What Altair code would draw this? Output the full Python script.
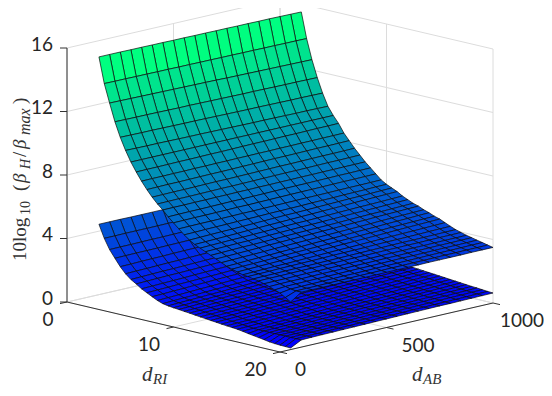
import altair as alt
import pandas as pd

d_ab = [50,100,150,200,250,300,350,400,450,500,550,600,650,700,750,800,850,900,950,1000]
d_ri = [2,2.5,3,3.5,4,4.5,5,5.5,6,6.5,7,7.5,8,8.5,9,9.5,10,10.5,11,11.5,12,12.5,13,13.5,14,14.5,15,15.5,16,16.5,17,17.5,18,18.5,19,19.5,20]

upper = [
[15.60,15.60,15.60,15.59,15.59,15.58,15.58,15.57,15.57,15.56,15.56,15.55,15.55,15.54,15.54,15.53,15.53,15.52,15.51,15.50],
[14.00,13.99,13.99,13.98,13.98,13.97,13.97,13.96,13.96,13.95,13.95,13.94,13.94,13.93,13.93,13.92,13.92,13.91,13.91,13.90],
[12.85,12.84,12.83,12.82,12.81,12.80,12.79,12.78,12.77,12.76,12.75,12.73,12.72,12.71,12.70,12.69,12.68,12.67,12.66,12.65],
[11.75,11.74,11.73,11.73,11.72,11.71,11.70,11.70,11.69,11.68,11.67,11.66,11.65,11.65,11.64,11.63,11.62,11.62,11.61,11.60],
[10.85,10.84,10.83,10.83,10.82,10.81,10.80,10.80,10.79,10.78,10.77,10.76,10.75,10.75,10.74,10.73,10.72,10.72,10.71,10.70],
[10.10,10.09,10.08,10.08,10.07,10.06,10.05,10.05,10.04,10.03,10.02,10.01,10.00,10.00,9.99,9.98,9.97,9.97,9.96,9.95],
[9.45,9.45,9.45,9.45,9.45,9.45,9.45,9.45,9.45,9.45,9.45,9.45,9.45,9.45,9.45,9.45,9.45,9.45,9.45,9.45],
[8.90,8.91,8.91,8.92,8.93,8.93,8.94,8.95,8.95,8.96,8.97,8.98,8.98,8.99,9.00,9.00,9.01,9.02,9.02,9.03],
[8.40,8.41,8.41,8.42,8.42,8.43,8.43,8.44,8.44,8.45,8.45,8.46,8.46,8.47,8.47,8.48,8.48,8.49,8.49,8.50],
[7.95,7.96,7.97,7.97,7.98,7.99,8.00,8.00,8.01,8.02,8.03,8.04,8.05,8.05,8.06,8.07,8.08,8.08,8.09,8.10],
[7.55,7.56,7.57,7.57,7.58,7.59,7.60,7.60,7.61,7.62,7.63,7.64,7.65,7.65,7.66,7.67,7.68,7.68,7.69,7.70],
[7.20,7.21,7.22,7.22,7.23,7.24,7.25,7.25,7.26,7.27,7.28,7.29,7.30,7.30,7.31,7.32,7.33,7.33,7.34,7.35],
[6.90,6.91,6.91,6.92,6.92,6.93,6.93,6.94,6.94,6.95,6.95,6.96,6.96,6.97,6.97,6.98,6.98,6.99,6.99,7.00],
[6.55,6.56,6.57,6.57,6.58,6.59,6.60,6.60,6.61,6.62,6.63,6.64,6.65,6.65,6.66,6.67,6.68,6.68,6.69,6.70],
[6.25,6.26,6.27,6.27,6.28,6.29,6.30,6.30,6.31,6.32,6.33,6.34,6.35,6.35,6.36,6.37,6.38,6.38,6.39,6.40],
[5.95,5.96,5.97,5.97,5.98,5.99,6.00,6.00,6.01,6.02,6.03,6.04,6.05,6.05,6.06,6.07,6.08,6.08,6.09,6.10],
[5.65,5.66,5.68,5.69,5.70,5.72,5.73,5.74,5.76,5.77,5.78,5.79,5.81,5.82,5.83,5.85,5.86,5.87,5.89,5.90],
[5.40,5.42,5.44,5.46,5.47,5.49,5.51,5.53,5.55,5.57,5.58,5.60,5.62,5.64,5.66,5.68,5.69,5.71,5.73,5.75],
[5.20,5.22,5.24,5.26,5.28,5.31,5.33,5.35,5.37,5.39,5.41,5.43,5.45,5.47,5.49,5.52,5.54,5.56,5.58,5.60],
[5.05,5.07,5.09,5.11,5.12,5.14,5.16,5.18,5.20,5.22,5.23,5.25,5.27,5.29,5.31,5.33,5.34,5.36,5.38,5.40],
[4.90,4.92,4.94,4.96,4.97,4.99,5.01,5.03,5.05,5.07,5.08,5.10,5.12,5.14,5.16,5.18,5.19,5.21,5.23,5.25],
[4.75,4.77,4.79,4.81,4.82,4.84,4.86,4.88,4.90,4.92,4.93,4.95,4.97,4.99,5.01,5.03,5.04,5.06,5.08,5.10],
[4.60,4.62,4.64,4.66,4.68,4.71,4.73,4.75,4.77,4.79,4.81,4.83,4.85,4.87,4.89,4.92,4.94,4.96,4.98,5.00],
[4.45,4.47,4.49,4.51,4.53,4.56,4.58,4.60,4.62,4.64,4.66,4.68,4.70,4.72,4.74,4.77,4.79,4.81,4.83,4.85],
[4.30,4.32,4.35,4.37,4.39,4.42,4.44,4.46,4.49,4.51,4.53,4.55,4.58,4.60,4.62,4.65,4.67,4.69,4.72,4.74],
[4.20,4.22,4.24,4.26,4.28,4.31,4.33,4.35,4.37,4.39,4.41,4.43,4.45,4.47,4.49,4.52,4.54,4.56,4.58,4.60],
[4.10,4.12,4.14,4.16,4.18,4.21,4.23,4.25,4.27,4.29,4.31,4.33,4.35,4.37,4.39,4.42,4.44,4.46,4.48,4.50],
[4.00,4.02,4.04,4.06,4.07,4.09,4.11,4.13,4.15,4.17,4.18,4.20,4.22,4.24,4.26,4.28,4.29,4.31,4.33,4.35],
[3.97,3.98,3.99,4.01,4.02,4.03,4.04,4.05,4.07,4.08,4.09,4.10,4.12,4.13,4.14,4.15,4.16,4.18,4.19,4.20],
[3.90,3.91,3.92,3.93,3.94,3.94,3.95,3.96,3.97,3.98,3.99,4.00,4.01,4.02,4.03,4.03,4.04,4.05,4.06,4.07],
[3.85,3.86,3.86,3.87,3.88,3.88,3.89,3.89,3.90,3.91,3.91,3.92,3.93,3.93,3.94,3.94,3.95,3.96,3.96,3.97],
[3.75,3.76,3.76,3.77,3.78,3.78,3.79,3.79,3.80,3.81,3.81,3.82,3.83,3.83,3.84,3.84,3.85,3.86,3.86,3.87],
[3.65,3.67,3.68,3.68,3.69,3.70,3.70,3.71,3.72,3.72,3.73,3.74,3.74,3.75,3.76,3.77,3.78,3.78,3.79,3.80],
[3.52,3.58,3.59,3.60,3.61,3.61,3.62,3.63,3.64,3.64,3.65,3.66,3.67,3.67,3.68,3.69,3.70,3.70,3.71,3.72],
[3.40,3.50,3.51,3.52,3.53,3.54,3.55,3.55,3.56,3.57,3.58,3.58,3.59,3.60,3.61,3.62,3.62,3.63,3.64,3.65],
[3.20,3.46,3.47,3.47,3.48,3.49,3.49,3.50,3.50,3.51,3.52,3.52,3.53,3.53,3.54,3.55,3.55,3.56,3.56,3.57],
[3.00,3.46,3.46,3.46,3.46,3.47,3.47,3.47,3.47,3.48,3.48,3.48,3.48,3.49,3.49,3.49,3.49,3.50,3.50,3.50],
]

lower = [
[5.06,5.06,5.06,5.05,5.05,5.05,5.05,5.04,5.04,5.03,5.03,5.03,5.02,5.02,5.02,5.01,5.01,5.01,5.00,5.00],
[4.25,4.25,4.26,4.26,4.26,4.26,4.27,4.27,4.27,4.27,4.28,4.28,4.28,4.28,4.29,4.29,4.29,4.29,4.30,4.30],
[3.62,3.63,3.63,3.64,3.65,3.65,3.66,3.67,3.67,3.68,3.69,3.70,3.70,3.71,3.72,3.72,3.73,3.74,3.74,3.75],
[3.15,3.16,3.17,3.17,3.18,3.19,3.20,3.21,3.21,3.22,3.23,3.24,3.25,3.25,3.26,3.27,3.28,3.28,3.29,3.30],
[2.70,2.71,2.73,2.74,2.75,2.77,2.78,2.79,2.81,2.82,2.83,2.84,2.86,2.87,2.88,2.90,2.91,2.92,2.94,2.95],
[2.33,2.35,2.36,2.38,2.40,2.41,2.43,2.45,2.46,2.48,2.50,2.52,2.53,2.55,2.57,2.58,2.60,2.62,2.63,2.65],
[2.05,2.07,2.09,2.11,2.12,2.14,2.16,2.18,2.20,2.22,2.23,2.25,2.27,2.29,2.31,2.33,2.34,2.36,2.38,2.40],
[1.85,1.87,1.89,1.91,1.92,1.94,1.96,1.98,2.00,2.02,2.03,2.05,2.07,2.09,2.11,2.13,2.14,2.16,2.18,2.20],
[1.62,1.64,1.66,1.68,1.70,1.73,1.75,1.77,1.79,1.81,1.83,1.85,1.87,1.89,1.91,1.94,1.96,1.98,2.00,2.02],
[1.45,1.47,1.49,1.52,1.54,1.56,1.58,1.60,1.63,1.65,1.67,1.69,1.72,1.74,1.76,1.78,1.80,1.83,1.85,1.87],
[1.28,1.30,1.33,1.35,1.38,1.40,1.43,1.45,1.47,1.50,1.52,1.55,1.57,1.59,1.62,1.64,1.67,1.69,1.72,1.74],
[1.12,1.15,1.17,1.20,1.23,1.25,1.28,1.31,1.33,1.36,1.39,1.42,1.44,1.47,1.50,1.52,1.55,1.58,1.60,1.63],
[1.00,1.03,1.06,1.08,1.11,1.14,1.17,1.20,1.22,1.25,1.28,1.31,1.33,1.36,1.39,1.42,1.45,1.47,1.50,1.53],
[0.94,0.97,0.99,1.02,1.05,1.07,1.10,1.13,1.15,1.18,1.21,1.24,1.26,1.29,1.32,1.34,1.37,1.40,1.42,1.45],
[0.90,0.92,0.95,0.97,1.00,1.02,1.05,1.07,1.10,1.12,1.15,1.17,1.20,1.22,1.25,1.27,1.30,1.32,1.35,1.37],
[0.87,0.89,0.92,0.94,0.96,0.99,1.01,1.03,1.06,1.08,1.10,1.12,1.15,1.17,1.19,1.22,1.24,1.26,1.29,1.31],
[0.83,0.85,0.87,0.90,0.92,0.94,0.96,0.98,1.01,1.03,1.05,1.07,1.10,1.12,1.14,1.16,1.18,1.21,1.23,1.25],
[0.80,0.82,0.84,0.86,0.88,0.90,0.93,0.95,0.97,0.99,1.01,1.03,1.05,1.07,1.09,1.12,1.14,1.16,1.18,1.20],
[0.76,0.78,0.80,0.82,0.84,0.86,0.89,0.91,0.93,0.95,0.97,0.99,1.01,1.03,1.05,1.08,1.10,1.12,1.14,1.16],
[0.72,0.74,0.76,0.78,0.80,0.82,0.85,0.87,0.89,0.91,0.93,0.95,0.97,0.99,1.01,1.04,1.06,1.08,1.10,1.12],
[0.69,0.71,0.73,0.75,0.77,0.79,0.82,0.84,0.86,0.88,0.90,0.92,0.94,0.96,0.98,1.01,1.03,1.05,1.07,1.09],
[0.65,0.67,0.69,0.71,0.74,0.76,0.78,0.80,0.82,0.85,0.87,0.89,0.91,0.93,0.95,0.98,1.00,1.02,1.04,1.06],
[0.62,0.64,0.66,0.68,0.71,0.73,0.75,0.77,0.79,0.82,0.84,0.86,0.88,0.90,0.92,0.95,0.97,0.99,1.01,1.03],
[0.58,0.60,0.62,0.65,0.67,0.69,0.71,0.73,0.76,0.78,0.80,0.82,0.85,0.87,0.89,0.91,0.93,0.96,0.98,1.00],
[0.55,0.57,0.59,0.62,0.64,0.66,0.68,0.70,0.73,0.75,0.77,0.79,0.82,0.84,0.86,0.88,0.90,0.93,0.95,0.97],
[0.52,0.54,0.56,0.59,0.61,0.63,0.65,0.67,0.70,0.72,0.74,0.76,0.79,0.81,0.83,0.85,0.87,0.90,0.92,0.94],
[0.49,0.51,0.53,0.56,0.58,0.60,0.62,0.64,0.67,0.69,0.71,0.73,0.76,0.78,0.80,0.82,0.84,0.87,0.89,0.91],
[0.44,0.47,0.49,0.51,0.53,0.56,0.58,0.60,0.62,0.65,0.67,0.69,0.72,0.74,0.76,0.79,0.81,0.83,0.86,0.88],
[0.38,0.46,0.48,0.50,0.52,0.54,0.56,0.58,0.61,0.63,0.65,0.67,0.69,0.71,0.73,0.76,0.78,0.80,0.83,0.85],
[0.33,0.46,0.47,0.49,0.51,0.53,0.55,0.57,0.59,0.61,0.63,0.65,0.67,0.69,0.71,0.73,0.75,0.77,0.80,0.82],
[0.28,0.45,0.47,0.48,0.50,0.52,0.54,0.56,0.58,0.60,0.62,0.63,0.65,0.67,0.69,0.71,0.73,0.75,0.77,0.79],
[0.23,0.45,0.46,0.48,0.49,0.51,0.53,0.55,0.56,0.58,0.60,0.61,0.63,0.65,0.67,0.69,0.70,0.72,0.74,0.76],
[0.17,0.45,0.46,0.47,0.49,0.50,0.52,0.54,0.55,0.57,0.58,0.60,0.61,0.63,0.65,0.66,0.68,0.70,0.71,0.73],
[0.14,0.45,0.46,0.47,0.48,0.50,0.51,0.53,0.54,0.56,0.57,0.59,0.60,0.62,0.63,0.65,0.66,0.68,0.69,0.71],
[0.12,0.45,0.46,0.47,0.48,0.49,0.51,0.52,0.53,0.55,0.56,0.57,0.59,0.60,0.61,0.63,0.64,0.65,0.67,0.68],
[0.11,0.45,0.46,0.47,0.48,0.49,0.50,0.51,0.52,0.53,0.54,0.56,0.57,0.58,0.59,0.60,0.61,0.62,0.64,0.65],
[0.10,0.45,0.47,0.48,0.49,0.50,0.51,0.52,0.53,0.54,0.55,0.56,0.57,0.58,0.59,0.59,0.60,0.61,0.62,0.63],
]

z_ticks = [0,4,8,12,16]
ri_ticks = [0,10,20]
ab_ticks = [0,500,1000]
RI_MAX, AB_MAX, Z_MAX = 20, 1000, 16


def proj(ri, ab, z=0):
    a, b = ab / AB_MAX, ri / RI_MAX
    return [67 + 213 * a + 213 * b - 8, 302 + 50 * b - 49 * a - 15.875 * z - 8]


def line(*pts):
    return {"type": "Feature", "properties": {}, "geometry": {"type": "LineString", "coordinates": pts}}


faces = []
for surface in (lower, upper):
    for i in range(len(d_ri) - 1):
        for j in range(len(d_ab) - 2, -1, -1):
            ring = [proj(d_ri[i], d_ab[j], surface[i][j]),
                    proj(d_ri[i + 1], d_ab[j], surface[i + 1][j]),
                    proj(d_ri[i + 1], d_ab[j + 1], surface[i + 1][j + 1]),
                    proj(d_ri[i], d_ab[j + 1], surface[i][j + 1]),
                    proj(d_ri[i], d_ab[j], surface[i][j])]
            faces.append({"type": "Feature", "properties": {"z": surface[i][j]},
                          "geometry": {"type": "Polygon", "coordinates": [ring]}})

grid = []
for z in z_ticks:
    grid.append(line(proj(0, 0, z), proj(0, AB_MAX, z), proj(RI_MAX, AB_MAX, z)))
for ab in ab_ticks:
    grid.append(line(proj(0, ab), proj(0, ab, Z_MAX)))
    grid.append(line(proj(0, ab), proj(RI_MAX, ab)))
for ri in ri_ticks:
    grid.append(line(proj(ri, AB_MAX), proj(ri, AB_MAX, Z_MAX)))
    grid.append(line(proj(ri, 0), proj(ri, AB_MAX)))

TL = 7
axes = [line(proj(0, 0, Z_MAX), proj(0, 0)),
        line(proj(0, 0), proj(RI_MAX, 0)),
        line(proj(RI_MAX, 0), proj(RI_MAX, AB_MAX))]
for z in z_ticks:
    p = proj(0, 0, z)
    axes.append(line(p, [p[0] - TL, p[1]]))
for ri in ri_ticks:
    p = proj(ri, 0)
    axes.append(line(p, [p[0] - TL, p[1] + 1.6]))
for ab in ab_ticks:
    p = proj(RI_MAX, ab)
    axes.append(line(p, [p[0] + TL, p[1] + 1.6]))

identity = dict(type="identity", scale=1, translate=[0, 0])

grid_layer = alt.Chart(alt.Data(values=grid)).mark_geoshape(filled=False, stroke="#dcdcdc", strokeWidth=1).project(**identity)
axes_layer = alt.Chart(alt.Data(values=axes)).mark_geoshape(filled=False, stroke="#333333", strokeWidth=1).project(**identity)
surf_layer = alt.Chart(alt.Data(values=faces)).mark_geoshape(stroke="#0a0a0a", strokeWidth=0.7).encode(
    color=alt.Color("properties.z:Q", legend=None,
                    scale=alt.Scale(domain=[0.1, 15.6], range=["#0000ff", "#00ff80"], interpolate="rgb"))
).project(**identity)


def label(text, x, y, font="Lato", size=19, align="center", style="normal", angle=0, baseline="middle", color="#262626"):
    return alt.Chart(pd.DataFrame({"t": [text]})).mark_text(
        font=font, fontSize=size, align=align, fontStyle=style, angle=angle, baseline=baseline, color=color
    ).encode(x=alt.value(x - 8), y=alt.value(y - 8), text="t:N")


texts = []
for z in z_ticks:
    p = proj(0, 0, z)
    texts.append(label(str(z), p[0] + 8 - 14, p[1] + 8 - 3.5, align="right"))
for ri in ri_ticks:
    p = proj(ri, 0)
    texts.append(label(str(ri), p[0] + 8 - 13.5, p[1] + 8 + 18, align="right"))
for ab in ab_ticks:
    p = proj(RI_MAX, ab)
    texts.append(label(str(ab), min(p[0] + 8 + 15, 500), p[1] + 8 + 18, align="left"))

SERIF = "Liberation Serif"
titles = [
    ("d", 142, 381, 21, "italic"),
    ("RI", 153, 384, 15, "italic"),
    ("d", 412, 381, 21, "italic"),
    ("AB", 423, 384, 15, "italic"),
]
for t, x, y, s, st in titles:
    texts.append(label(t, x, y, font=SERIF, size=s, style=st, align="left", baseline="alphabetic", color="#333333"))

ylabel = [
    ("10log", 26, 261, 19, "normal"),
    ("10", 30, 215, 14, "normal"),
    ("(", 26, 191, 19, "normal"),
    ("\u03b2", 26, 183, 19, "italic"),
    ("H", 30, 169, 14, "italic"),
    ("/", 26, 157, 19, "normal"),
    ("\u03b2", 26, 149, 19, "italic"),
    ("max", 30, 135, 16, "italic"),
    (")", 26, 104, 19, "normal"),
]
for t, x, y, s, st in ylabel:
    texts.append(label(t, x, y, font=SERIF, size=s, style=st, align="left", angle=270, baseline="alphabetic", color="#333333"))

chart = alt.layer(grid_layer, axes_layer, surf_layer, *texts).properties(
    width=536, height=380, padding=0, autosize=alt.AutoSizeParams(type="none"), background="white"
).configure_view(stroke=None)

chart.save("out.html", embed_options={"renderer": "svg", "actions": False})
